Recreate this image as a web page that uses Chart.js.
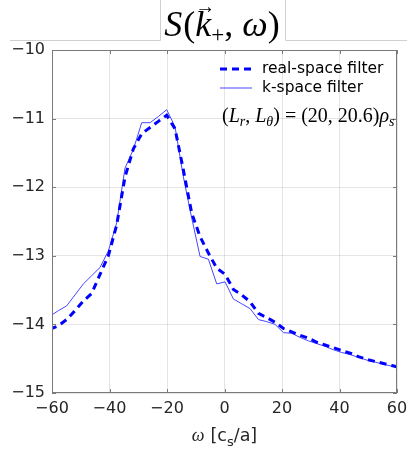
<!DOCTYPE html>
<html>
<head>
<meta charset="utf-8">
<script src="https://cdn.jsdelivr.net/npm/chart.js@4.4.0/dist/chart.umd.min.js"></script>
<style>
  html, body { margin: 0; padding: 0; background: #fff; }
  canvas { display: block; }
</style>
</head>
<body>
<canvas id="spectrum" width="407" height="456" style="width:407px;height:456px"></canvas>
<script>
// frequency grid (omega in c_s/a)
const omega = [-60.7, -57.8, -54.9, -52.0, -49.1, -46.2, -43.3, -40.4, -37.5, -34.6,
  -31.7, -28.8, -25.9, -23.0, -20.1, -17.2, -14.3, -11.4, -8.5, -5.6,
  -2.7, 0.2, 3.1, 6.0, 8.9, 11.8, 14.7, 17.6, 20.5, 23.4,
  26.3, 29.2, 32.1, 35.0, 37.9, 40.8, 43.7, 46.6, 49.5, 52.4,
  55.3, 58.2, 61.1];

const realSpace = [-14.07, -14.02, -13.93, -13.80, -13.66, -13.55, -13.27, -13.00, -12.55, -11.85,
  -11.44, -11.22, -11.13, -11.04, -10.95, -11.15, -11.75, -12.38, -12.72, -12.96,
  -13.18, -13.27, -13.49, -13.57, -13.67, -13.84, -13.90, -13.97, -14.06, -14.11,
  -14.16, -14.20, -14.26, -14.30, -14.34, -14.38, -14.42, -14.47, -14.51, -14.54,
  -14.57, -14.60, -14.63];

const kSpace = [-13.88, -13.80, -13.73, -13.57, -13.41, -13.29, -13.17, -12.93, -12.52, -11.72,
  -11.45, -11.06, -11.06, -10.97, -10.87, -11.12, -11.85, -12.45, -13.01, -13.05,
  -13.41, -13.38, -13.63, -13.70, -13.77, -13.93, -13.96, -14.00, -14.12, -14.13,
  -14.19, -14.24, -14.28, -14.32, -14.37, -14.41, -14.44, -14.48, -14.52, -14.55,
  -14.58, -14.61, -14.63];

const xTicks = [-60, -40, -20, 0, 20, 40, 60];
const yTicks = [-15, -14, -13, -12, -11, -10];
const seriesNames = ['real-space filter', 'k-space filter'];

const SANS = '"DejaVu Sans", sans-serif';
const SERIF = '"Liberation Serif", serif';
const INK = '#262626';

function pairs(xs, ys) {
  return xs.map((x, i) => ({ x: x, y: ys[i] }));
}

function minusSign(v) {
  return String(v).replace('-', '\u2212');
}

// draw a run of text pieces, each with its own font and baseline shift
function runWidth(ctx, runs) {
  let w = 0;
  runs.forEach(r => { ctx.font = r.font; w += ctx.measureText(r.t).width + (r.gap || 0); });
  return w;
}
function drawRuns(ctx, runs, x, y) {
  runs.forEach(r => {
    ctx.font = r.font;
    ctx.fillText(r.t, x, y + (r.dy || 0));
    const w = ctx.measureText(r.t).width;
    if (r.after) r.after(ctx, x, y, w);
    x += w + (r.gap || 0);
  });
  return x;
}

const decorPlugin = {
  id: 'decor',
  afterDatasetsDraw(chart) {
    const ctx = chart.ctx;
    const a = chart.chartArea;
    const xs = chart.scales.x, ys = chart.scales.y;
    ctx.save();
    // box with inward ticks on every side
    ctx.strokeStyle = '#7a7a7a';
    ctx.lineWidth = 1;
    ctx.strokeRect(a.left + 0.5, a.top + 0.5, a.right - a.left - 1, a.bottom - a.top - 1);
    ctx.beginPath();
    xTicks.forEach(v => {
      const px = Math.round(xs.getPixelForValue(v)) + 0.5;
      ctx.moveTo(px, a.bottom); ctx.lineTo(px, a.bottom - 4);
      ctx.moveTo(px, a.top); ctx.lineTo(px, a.top + 4);
    });
    yTicks.forEach(v => {
      const py = Math.round(ys.getPixelForValue(v)) + 0.5;
      ctx.moveTo(a.left, py); ctx.lineTo(a.left + 4, py);
      ctx.moveTo(a.right, py); ctx.lineTo(a.right - 4, py);
    });
    ctx.stroke();

    // legend
    const ds = chart.data.datasets;
    const lx = 220, ly = a.top + 19;
    ctx.textBaseline = 'middle';
    ctx.fillStyle = '#000';
    ds.forEach((d, i) => {
      const y = ly + i * 19;
      ctx.beginPath();
      ctx.strokeStyle = d.borderColor;
      ctx.lineWidth = d.borderWidth;
      ctx.setLineDash(d.borderDash || []);
      ctx.moveTo(lx, y); ctx.lineTo(lx + 32, y);
      ctx.stroke();
      ctx.setLineDash([]);
      ctx.font = '15.5px ' + SANS;
      ctx.fillText(d.label, lx + 42, y);
    });

    // annotation (L_r, L_theta) = (20, 20.6) rho_s
    ctx.textBaseline = 'alphabetic';
    const up = '20px ' + SERIF, it = 'italic 20px ' + SERIF, sub = 'italic 14px ' + SERIF;
    drawRuns(ctx, [
      { t: '(', font: up }, { t: 'L', font: it }, { t: 'r', font: sub, dy: 4 },
      { t: ', ', font: up }, { t: 'L', font: it }, { t: '\u03b8', font: sub, dy: 4 },
      { t: ') = (20, 20.6)', font: up }, { t: '\u03c1', font: it }, { t: 's', font: sub, dy: 4 }
    ], 222, a.top + 72);
    ctx.restore();
  },
  afterDraw(chart) {
    const ctx = chart.ctx;
    const a = chart.chartArea;
    ctx.save();
    // pasted title panel outline
    ctx.strokeStyle = '#d0d0d0';
    ctx.lineWidth = 1;
    ctx.beginPath();
    ctx.moveTo(10, 40.5); ctx.lineTo(160.5, 40.5); ctx.lineTo(160.5, 0);
    ctx.moveTo(285.5, 0); ctx.lineTo(285.5, 40.5); ctx.lineTo(407, 40.5);
    ctx.stroke();

    // title S(k+, omega)
    ctx.fillStyle = '#000';
    ctx.textBaseline = 'alphabetic';
    const big = '36px ' + SERIF, bigIt = 'italic 36px ' + SERIF, small = '23px ' + SERIF;
    const runs = [
      { t: 'S', font: bigIt, gap: 1 }, { t: '(', font: big },
      { t: 'k', font: bigIt, after: (c, x, y, w) => {
          c.font = '20px ' + SERIF;
          const aw = c.measureText('\u2192').width;
          c.fillText('\u2192', x + w / 2 - aw / 2 + 2, y - 23);
        } },
      { t: '+', font: small, dy: 6 }, { t: ', ', font: big },
      { t: '\u03c9', font: bigIt }, { t: ')', font: big }
    ];
    const tw = runWidth(ctx, runs);
    drawRuns(ctx, runs, 222 - tw / 2, 36);

    // x axis label
    ctx.fillStyle = INK;
    const lab = [
      { t: '\u03c9', font: 'italic 18px ' + SERIF, gap: 6 },
      { t: '[c', font: '17.5px ' + SANS }, { t: 's', font: '13px ' + SANS, dy: 5 },
      { t: '/a]', font: '17.5px ' + SANS }
    ];
    const lw = runWidth(ctx, lab);
    drawRuns(ctx, lab, (a.left + a.right) / 2 - lw / 2, 441);
    ctx.restore();
  }
};

new Chart(document.getElementById('spectrum').getContext('2d'), {
  type: 'line',
  data: {
    datasets: [
      {
        label: seriesNames[0],
        data: pairs(omega, realSpace),
        borderColor: '#0000ff',
        borderWidth: 3,
        borderDash: [7, 5],
        pointRadius: 0,
        tension: 0,
        clip: 0
      },
      {
        label: seriesNames[1],
        data: pairs(omega, kSpace),
        borderColor: 'rgb(70, 70, 255)',
        borderWidth: 1,
        pointRadius: 0,
        tension: 0,
        clip: 0
      }
    ]
  },
  options: {
    responsive: false,
    animation: false,
    layout: { padding: { left: 0, right: 10, top: 50, bottom: 0 } },
    plugins: {
      legend: { display: false },
      title: { display: false },
      tooltip: { enabled: false }
    },
    scales: {
      x: {
        type: 'linear',
        min: -60,
        max: 60,
        afterBuildTicks: s => { s.ticks = xTicks.map(v => ({ value: v })); },
        afterFit: s => { s.height = 63; s.paddingLeft = 0; s.paddingRight = 0; },
        grid: { color: 'rgba(0,0,0,0.1)', drawTicks: false },
        border: { display: false },
        ticks: {
          padding: 6,
          color: INK,
          font: { family: SANS, size: 16 },
          maxRotation: 0,
          callback: v => minusSign(v)
        }
      },
      y: {
        type: 'linear',
        min: -15,
        max: -10,
        afterBuildTicks: s => { s.ticks = yTicks.map(v => ({ value: v })); },
        afterFit: s => { s.width = 52; s.paddingTop = 0; s.paddingBottom = 0; },
        grid: { color: 'rgba(0,0,0,0.1)', drawTicks: false },
        border: { display: false },
        ticks: {
          padding: 7,
          color: INK,
          font: { family: SANS, size: 16 },
          callback: v => minusSign(v)
        }
      }
    }
  },
  plugins: [decorPlugin]
});
</script>
</body>
</html>
